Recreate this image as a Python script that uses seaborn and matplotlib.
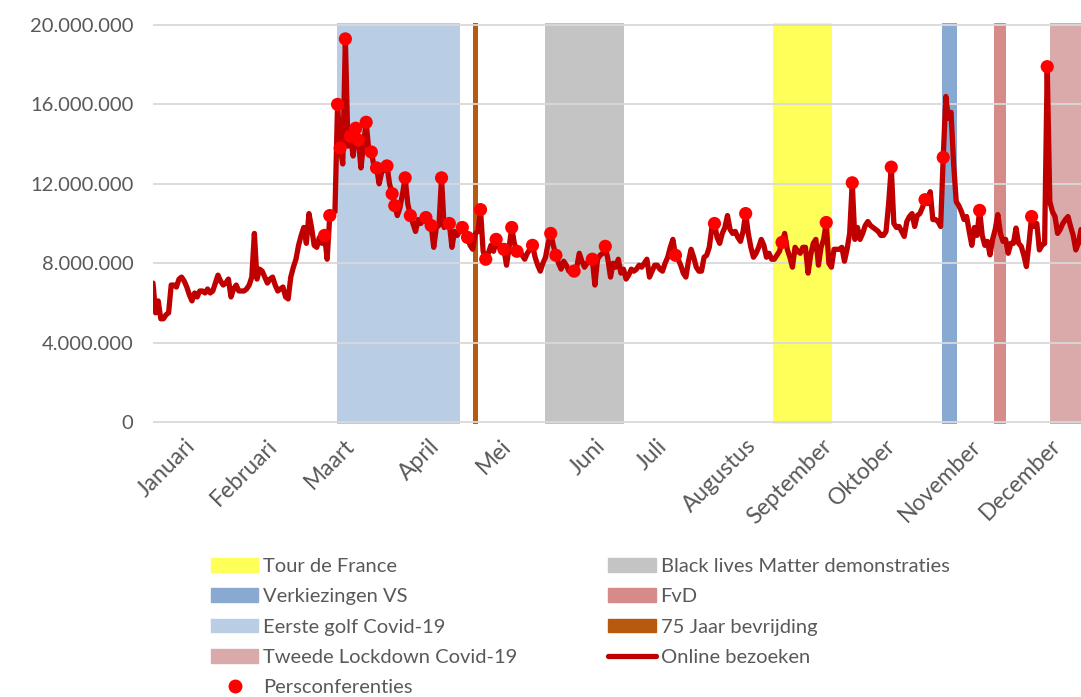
import numpy as np
import pandas as pd
import matplotlib.pyplot as plt
import seaborn as sns
from matplotlib.patches import Patch
from matplotlib.lines import Line2D

# 1. Data -------------------------------------------------------------------

# Daily online visits in millions, day 0 = 1 januari (chart is cut off around day 357)
visits_millions = [
    7.0, 5.5, 6.1, 5.2, 5.2, 5.4, 5.5, 6.9, 6.9, 6.8,
    7.2, 7.3, 7.1, 6.8, 6.4, 6.1, 6.5, 6.3, 6.6, 6.6,
    6.5, 6.7, 6.5, 6.6, 7.0, 7.4, 7.1, 6.9, 7.0, 7.2,
    6.3, 6.7, 6.9, 6.6, 6.6, 6.6, 6.7, 6.9, 7.3, 9.5,
    7.2, 7.7, 7.6, 7.3, 7.0, 7.2, 7.3, 6.9, 6.6, 6.7,
    6.8, 6.3, 6.2, 7.3, 7.8, 8.2, 8.9, 9.4, 9.8, 9.0,
    10.5, 9.8, 8.9, 8.8, 9.3, 9.0, 9.4, 8.2, 10.4, 10.5,
    10.6, 16.0, 13.8, 13.0, 19.3, 13.9, 14.4, 13.4, 14.8, 14.2,
    12.8, 14.0, 15.1, 13.7, 13.6, 12.9, 12.8, 12.0, 12.6, 12.7,
    12.9, 12.0, 11.5, 10.9, 10.4, 10.8, 11.5, 12.3, 11.0, 10.4,
    10.0, 9.6, 10.2, 10.0, 10.2, 10.3, 9.9, 9.9, 8.8, 9.8,
    9.9, 12.3, 9.8, 9.9, 10.0, 8.8, 9.6, 9.4, 9.6, 9.8,
    9.5, 9.3, 8.9, 8.7, 9.5, 9.6, 10.7, 8.6, 8.2, 8.5,
    8.9, 8.6, 9.2, 8.8, 8.9, 8.7, 7.9, 8.8, 9.8, 9.0,
    8.6, 8.7, 8.4, 8.2, 8.5, 8.7, 8.9, 8.3, 7.9, 7.6,
    8.0, 8.3, 9.0, 9.5, 8.9, 8.4, 8.0, 7.7, 8.1, 7.9,
    7.6, 7.7, 7.6, 7.8, 8.5, 8.1, 7.8, 8.0, 8.2, 8.2,
    6.9, 8.2, 8.4, 8.5, 8.85, 8.2, 7.3, 8.0, 7.8, 8.2,
    7.5, 7.7, 7.2, 7.4, 7.7, 7.6, 7.7, 7.9, 7.8, 8.0,
    8.2, 7.3, 7.6, 7.9, 7.9, 7.7, 7.6, 8.0, 8.3, 8.8,
    9.2, 8.4, 8.2, 7.9, 7.5, 7.3, 8.1, 8.7, 8.3, 7.8,
    7.6, 7.6, 8.3, 8.4, 8.8, 9.8, 10.0, 9.3, 9.0, 9.5,
    9.8, 10.4, 9.7, 9.5, 9.6, 9.3, 9.1, 9.6, 10.5, 9.5,
    8.8, 8.3, 8.5, 8.8, 9.2, 8.9, 8.3, 8.5, 8.2, 8.2,
    8.4, 8.6, 9.05, 9.5, 8.7, 8.3, 7.8, 8.8, 8.6, 8.5,
    8.8, 8.8, 7.5, 8.4, 9.0, 9.2, 7.9, 8.8, 9.2, 10.05,
    8.0, 7.8, 8.7, 8.7, 8.7, 8.8, 8.1, 8.7, 9.5, 12.05,
    9.2, 9.8, 9.2, 9.5, 9.9, 10.1, 9.9, 9.8, 9.7, 9.6,
    9.4, 9.4, 9.6, 11.0, 12.84, 10.0, 9.8, 9.85, 9.6, 9.35,
    10.1, 10.35, 10.5, 9.85, 10.4, 10.5, 10.8, 11.2, 11.0, 11.6,
    10.2, 10.2, 10.1, 9.85, 13.33, 16.4, 15.3, 15.6, 13.0, 11.1,
    10.9, 10.6, 10.2, 10.35, 9.6, 8.9, 9.8, 9.4, 10.66, 9.4,
    8.9, 9.1, 8.42, 9.2, 9.7, 10.45, 9.5, 9.1, 9.2, 8.5,
    9.0, 9.0, 9.77, 9.0, 8.85, 8.4, 7.83, 9.0, 10.35, 9.85,
    10.0, 8.67, 8.9, 9.0, 17.9, 11.1, 10.6, 10.35, 9.5, 9.7,
    10.0, 10.2, 10.35, 9.85, 9.4, 8.67, 9.0, 9.7,
]

# Days with a persconferentie
press_days = [
    66, 68, 71, 72, 74, 76, 78, 79, 82, 84, 86, 90, 92, 93, 97, 99,
    105, 107, 111, 114, 119, 121, 126, 128, 132, 135, 138, 140, 146,
    153, 155, 162, 169, 174, 201, 216, 228, 242, 259, 269, 284, 297,
    304, 318, 338, 344,
]

# Month labels and their position (day number)
month_labels = [
    "Januari", "Februari", "Maart", "April", "Mei", "Juni", "Juli",
    "Augustus", "September", "Oktober", "November", "December",
]
month_positions = [12, 43.5, 73.5, 106, 133.5, 170, 193.5, 228, 257, 281.5, 314.5, 345]

# Event periods (start day, end day)
event_names = [
    "Eerste golf Covid-19", "75 Jaar bevrijding", "Black lives Matter demonstraties",
    "Tour de France", "Verkiezingen VS", "FvD", "Tweede Lockdown Covid-19",
]
event_starts = [70.9, 123.1, 150.9, 238.5, 303.7, 323.5, 345.0]
event_ends = [118.2, 124.9, 181.2, 261.2, 309.4, 328.2, 372]
event_colors = ["#B9CDE5", "#B85A0D", "#C4C4C4", "#FFFF5A", "#88AAD2", "#D58B8A", "#DAA9A9"]

y_ticks = [0, 4000000, 8000000, 12000000, 16000000, 20000000]

# 2. Processing --------------------------------------------------------------

visits_df = pd.DataFrame(
    {"day": np.arange(len(visits_millions)), "visits": np.array(visits_millions) * 1e6}
)
press_df = visits_df[visits_df["day"].isin(press_days)]
event_colour = dict(zip(event_names, event_colors))

# 3. Plotting ----------------------------------------------------------------

sns.set_theme(style="white")
plt.rcParams["font.family"] = ["Lato", "DejaVu Sans"]
text_grey = "#595959"
font_size = 14.5

fig = plt.figure(figsize=(10.81, 6.97), dpi=100)
ax = fig.add_axes([153 / 1081, (697 - 424) / 697, 928 / 1081, 401 / 697])

# Event bands
for name, start, end in zip(event_names, event_starts, event_ends):
    ax.axvspan(start, end, color=event_colour[name], lw=0, zorder=0.2)

# Visits line and press conferences
sns.lineplot(
    data=visits_df, x="day", y="visits", color="#C00000", lw=3.8,
    solid_joinstyle="round", ax=ax, zorder=2,
)
sns.scatterplot(
    data=press_df, x="day", y="visits", color="#FF0000", s=90,
    edgecolor="none", ax=ax, zorder=3,
)

ax.set_xlim(0, 357)
ax.set_ylim(-100000, 20100000)
ax.set_yticks(y_ticks)
ax.set_yticklabels([f"{v:,}".replace(",", ".") for v in y_ticks])
ax.set_xticks(month_positions)
ax.set_xticklabels(month_labels, rotation=45, ha="right", va="top", rotation_mode="anchor")
ax.tick_params(axis="both", length=0, colors=text_grey)
ax.tick_params(axis="y", pad=14, labelsize=font_size)
ax.tick_params(axis="x", pad=8, labelsize=16.5)
ax.set_xlabel("")
ax.set_ylabel("")

ax.set_axisbelow(True)
ax.yaxis.grid(True, color="#D9D9D9", lw=1.3)
ax.xaxis.grid(False)
sns.despine(ax=ax, left=True, bottom=True)

# Legend below the chart
handles = [
    Patch(color=event_colour["Tour de France"]),
    Patch(color=event_colour["Verkiezingen VS"]),
    Patch(color=event_colour["Eerste golf Covid-19"]),
    Patch(color=event_colour["Tweede Lockdown Covid-19"]),
    Line2D([], [], marker="o", color="#FF0000", ls="none", markersize=9),
    Patch(color=event_colour["Black lives Matter demonstraties"]),
    Patch(color=event_colour["FvD"]),
    Patch(color=event_colour["75 Jaar bevrijding"]),
    Line2D([], [], color="#C00000", lw=3.8, solid_capstyle="round"),
]
labels = [
    "Tour de France", "Verkiezingen VS", "Eerste golf Covid-19",
    "Tweede Lockdown Covid-19", "Persconferenties",
    "Black lives Matter demonstraties", "FvD", "75 Jaar bevrijding", "Online bezoeken",
]
leg = fig.legend(
    handles, labels, ncol=2, loc="upper left",
    bbox_to_anchor=(211 / 1081, 1 - 558 / 697), frameon=False,
    fontsize=font_size, handlelength=2.35, handleheight=0.65,
    handletextpad=0.25, labelspacing=0.66, columnspacing=4.5,
    borderpad=0, borderaxespad=0,
)
for t in leg.get_texts():
    t.set_color(text_grey)

plt.savefig("out.png", dpi=100)
